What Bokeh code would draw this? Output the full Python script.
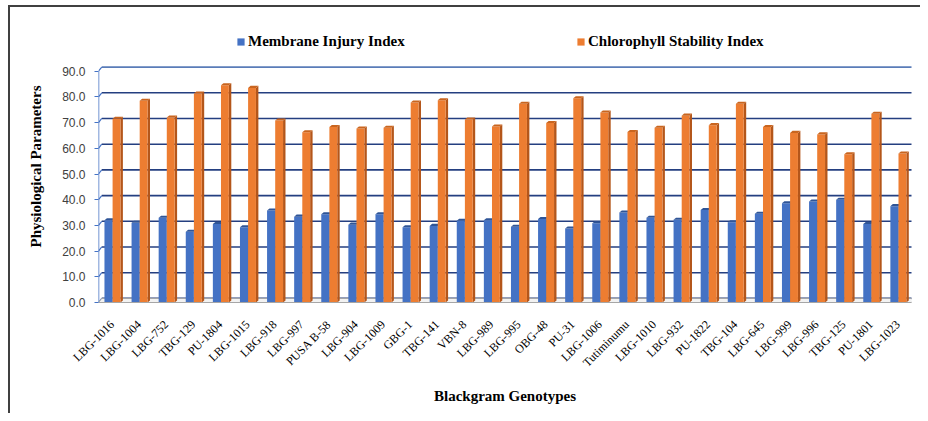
import numpy as np
from bokeh.plotting import figure
from bokeh.models import FixedTicker, Legend, LegendItem, Range1d, CustomJSTickFormatter
from bokeh.embed import file_html
from bokeh.resources import INLINE

genotypes = ["LBG-1016", "LBG-1004", "LBG-752", "TBG-129", "PU-1804", "LBG-1015", "LBG-918",
             "LBG-997", "PUSA B-58", "LBG-904", "LBG-1009", "GBG-1", "TBG-141", "VBN-8",
             "LBG-989", "LBG-995", "OBG-48", "PU-31", "LBG-1006", "Tutiminumu", "LBG-1010",
             "LBG-932", "PU-1822", "TBG-104", "LBG-645", "LBG-999", "LBG-996", "TBG-125",
             "PU-1801", "LBG-1023"]
membrane = [32.0, 31.0, 33.0, 27.5, 30.5, 29.3, 35.8, 33.4, 34.3, 30.3, 34.3, 29.3, 29.8, 31.8,
            32.0, 29.5, 32.5, 28.8, 30.8, 35.0, 33.0, 32.2, 36.0, 31.2, 34.5, 38.6, 39.3, 40.0,
            30.5, 37.5]
chlorophyll = [71.5, 78.5, 72.0, 81.3, 84.5, 83.5, 70.8, 66.2, 68.3, 67.7, 68.0, 77.8, 78.7, 71.2,
               68.5, 77.3, 69.8, 79.5, 73.9, 66.3, 68.0, 72.7, 69.0, 77.3, 68.3, 66.0, 65.4, 57.7,
               73.4, 58.0]
y_ticks = [0, 10, 20, 30, 40, 50, 60, 70, 80, 90]
series_names = ["Membrane Injury Index", "Chlorophyll Stability Index"]

SERIF = "Liberation Serif"
n = len(genotypes)
centers = np.arange(n) + 0.5
PX_PER_UNIT = 2.57
FRAME_H = 272

p = figure(frame_width=813, frame_height=FRAME_H, output_backend="svg", toolbar_location=None,
           x_range=Range1d(0, n), y_range=Range1d(0, FRAME_H / PX_PER_UNIT),
           min_border_left=98, min_border_right=9, min_border_top=30, min_border_bottom=111)
p.outline_line_color = None
p.xgrid.visible = False
p.ygrid.visible = False
p.border_fill_color = None
p.background_fill_color = None
p.styles = {"box-shadow": "inset 8px 5px 0 0 #ffffff, inset 10px 7px 0 0 #404040"}

top_tick = max(y_ticks)
back = 1.6
# back-wall gridlines (3D offset)
for t in y_ticks:
    p.line([0.12, n + 0.05], [t + back, t + back],
           line_color="#5a7cb8" if t == top_tick else "#243f80", line_width=1.6)
# left wall connectors and front axis line
for t in y_ticks:
    p.line([0, 0.12], [t, t + back], line_color="#4472C4", line_width=1.2)
p.line([0, 0], [0, top_tick], line_color="#4472C4", line_width=1.5)
# floor
p.patch([0, n, n + 0.12, 0.12], [0, 0, back, back], fill_color="#f2f2f2",
        line_color="#a6a6a6", line_width=1)

dx, dy = 0.09, 0.8
b_left = centers - 0.28
b_right = centers + 0.02
o_left = centers + 0.02
o_right = centers + 0.31

def faces(left, right, vals):
    tops_x, tops_y, side_x, side_y = [], [], [], []
    for l, r, v in zip(left, right, vals):
        tops_x.append([l, r, r + dx, l + dx])
        tops_y.append([v, v, v + dy, v + dy])
        side_x.append([r, r + dx, r + dx, r])
        side_y.append([0, dy, v + dy, v])
    return tops_x, tops_y, side_x, side_y

btx, bty, bsx, bsy = faces(b_left, b_right, membrane)
otx, oty, osx, osy = faces(o_left, o_right, chlorophyll)

p.patches(bsx, bsy, fill_color="#2F5597", line_color=None)
rb = p.quad(left=b_left, right=b_right, bottom=0, top=membrane, fill_color="#4472C4", line_color=None)
p.patches(btx, bty, fill_color="#2F5597", line_color=None)

p.patches(osx, osy, fill_color="#B4561A", line_color=None)
ro = p.quad(left=o_left, right=o_right, bottom=0, top=chlorophyll, fill_color="#ED7D31", line_color=None)
p.patches(otx, oty, fill_color="#C9651F", line_color=None)

# y axis
yax = p.yaxis[0]
yax.ticker = FixedTicker(ticks=y_ticks)
yax.formatter = CustomJSTickFormatter(code="return tick.toFixed(1);")
yax.axis_line_color = None
yax.major_tick_line_color = "#4472C4"
yax.major_tick_out = 4
yax.major_tick_in = 0
yax.minor_tick_line_color = None
yax.major_label_text_font = "Liberation Sans"
yax.major_label_text_font_size = "12px"
yax.major_label_text_color = "#404040"
yax.major_label_standoff = 9
yax.axis_label = "Physiological Parameters"
yax.axis_label_text_font = SERIF
yax.axis_label_text_font_style = "bold"
yax.axis_label_text_font_size = "15px"
yax.axis_label_text_color = "#000000"
yax.axis_label_standoff = 15

# x axis
xax = p.xaxis[0]
xax.ticker = FixedTicker(ticks=list(centers))
xax.major_label_overrides = {float(c): g for c, g in zip(centers, genotypes)}
xax.major_label_orientation = np.pi / 4
xax.major_label_text_font = SERIF
xax.major_label_text_font_size = "12px"
xax.major_label_text_color = "#000000"
xax.major_tick_line_color = None
xax.minor_tick_line_color = None
xax.axis_line_color = "#a6a6a6"
xax.major_label_standoff = 14
xax.axis_label = "Blackgram Genotypes"
xax.axis_label_text_font = SERIF
xax.axis_label_text_font_style = "bold"
xax.axis_label_text_font_size = "15px"
xax.axis_label_text_color = "#000000"
xax.axis_label_standoff = 10

for rend, name, xloc in [(rb, series_names[0], 138), (ro, series_names[1], 478)]:
    lg = Legend(items=[LegendItem(label=name, renderers=[rend])], location=(xloc, 252),
                padding=0, margin=0, border_line_color=None, background_fill_alpha=0,
                glyph_width=9, glyph_height=9, label_standoff=3, label_height=16,
                label_text_font=SERIF, label_text_font_style="bold",
                label_text_font_size="15px", label_text_color="#000000")
    p.add_layout(lg, "center")

open("out.html", "w").write(file_html(p, INLINE))
